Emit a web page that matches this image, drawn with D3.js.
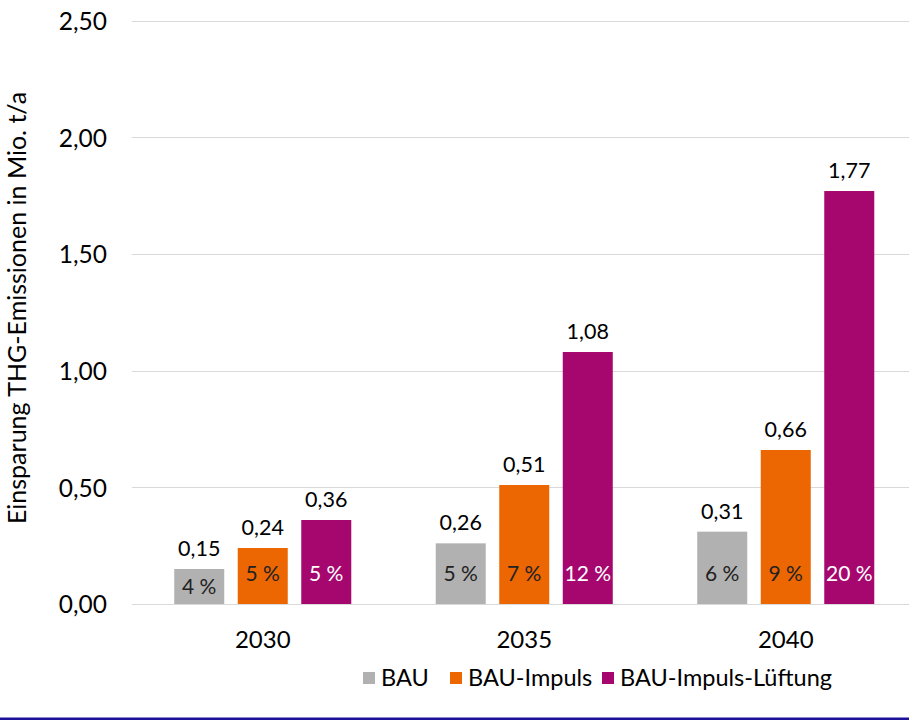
<!DOCTYPE html>
<html lang="de">
<head>
    <meta charset="UTF-8">
    <title>Einsparung THG-Emissionen</title>
    <script src="https://cdn.jsdelivr.net/npm/d3@7/dist/d3.min.js"></script>
    <style>
        body {
            margin: 0;
            background: #fff;
        }
        svg {
            display: block;
            font-family: Lato, "Open Sans", sans-serif;
        }
        .grid line {
            stroke: #d9d9d9;
            stroke-width: 1;
            shape-rendering: crispEdges;
        }
        .axis path,
        .axis line {
            display: none;
        }
        .axis text {
            fill: #000;
        }
    </style>
</head>
<body>
<script>
    var years = ["2030", "2035", "2040"],
        series = ["BAU", "BAU-Impuls", "BAU-Impuls-Lüftung"],
        colors = ["#b1b1b1", "#ec6602", "#a5076f"],
        bau = [0.15, 0.26, 0.31],
        impuls = [0.24, 0.51, 0.66],
        lueftung = [0.36, 1.08, 1.77],
        pctBau = [4, 5, 6],
        pctImpuls = [5, 7, 9],
        pctLueftung = [5, 12, 20],
        yTicks = [0, 0.5, 1, 1.5, 2, 2.5];

    var values = [bau, impuls, lueftung],
        pcts = [pctBau, pctImpuls, pctLueftung],
        pctColors = ["#222", "#222", "#fff"];

    var width = 909, height = 727;
    var plotLeft = 132, plotRight = 916.5, plotTop = 20.7, plotBottom = 604;

    var fmt = function (v) { return d3.format(".2f")(v).replace(".", ","); };

    var x0 = d3.scaleBand().domain(years).range([plotLeft, plotRight]);
    var x1 = d3.scaleBand().domain(series)
        .range([0, x0.bandwidth()])
        .paddingInner(0.2126)
        .paddingOuter(0.665);
    var y = d3.scaleLinear().domain([0, 2.5]).range([plotBottom, plotTop]);

    var svg = d3.select("body").append("svg")
        .attr("width", width)
        .attr("height", height);

    // grid
    svg.append("g").attr("class", "grid")
        .selectAll("line")
        .data(yTicks)
        .enter().append("line")
        .attr("x1", plotLeft).attr("x2", width)
        .attr("y1", function (d) { return Math.round(y(d)) + 0.5; })
        .attr("y2", function (d) { return Math.round(y(d)) + 0.5; });

    // y axis
    var yAxis = d3.axisLeft(y).tickValues(yTicks).tickFormat(fmt).tickSize(0).tickPadding(0);
    svg.append("g").attr("class", "axis")
        .attr("transform", "translate(107,0)")
        .call(yAxis)
        .attr("font-family", null)
        .selectAll("text")
        .style("font-size", "24.5px")
        .attr("dy", "0.36em");

    // x axis
    var xAxis = d3.axisBottom(x0).tickSize(0).tickPadding(0);
    svg.append("g").attr("class", "axis")
        .attr("transform", "translate(0," + 631 + ")")
        .call(xAxis)
        .attr("font-family", null)
        .selectAll("text")
        .style("font-size", "24px")
        .attr("dy", "0.72em");

    // bars
    var cells = [];
    years.forEach(function (yr, i) {
        series.forEach(function (s, j) {
            cells.push({year: yr, s: s, j: j, v: values[j][i], p: pcts[j][i]});
        });
    });

    var g = svg.append("g");
    var bar = g.selectAll(".bar")
        .data(cells)
        .enter().append("g")
        .attr("class", "bar")
        .attr("transform", function (d) { return "translate(" + (x0(d.year) + x1(d.s)) + ",0)"; });

    bar.append("rect")
        .attr("y", function (d) { return y(d.v); })
        .attr("width", x1.bandwidth())
        .attr("height", function (d) { return y(0) - y(d.v); })
        .attr("fill", function (d) { return colors[d.j]; });

    bar.append("text")
        .attr("x", x1.bandwidth() / 2)
        .attr("y", function (d) { return y(d.v) - 13; })
        .attr("text-anchor", "middle")
        .style("font-size", "21.5px")
        .text(function (d) { return fmt(d.v); });

    bar.append("text")
        .attr("x", x1.bandwidth() / 2)
        .attr("y", function (d) { return Math.max(y(0) - 31, y(d.v) + 17); })
        .attr("dy", "0.36em")
        .attr("text-anchor", "middle")
        .attr("fill", function (d) { return pctColors[d.j]; })
        .style("font-size", "21px")
        .text(function (d) { return d.p + " %"; });

    // legend
    var legendX = [363, 450, 602];
    var leg = svg.append("g").selectAll("g")
        .data(series)
        .enter().append("g")
        .attr("transform", function (d, i) { return "translate(" + legendX[i] + ",672)"; });
    leg.append("rect")
        .attr("width", 12).attr("height", 12)
        .attr("fill", function (d, i) { return colors[i]; });
    leg.append("text")
        .attr("x", 18).attr("y", 6)
        .attr("dy", "0.36em")
        .style("font-size", "23.5px")
        .text(function (d) { return d; });

    // y title
    svg.append("text")
        .attr("transform", "translate(26,308) rotate(-90)")
        .attr("text-anchor", "middle")
        .style("font-size", "25px")
        .text("Einsparung THG-Emissionen in Mio. t/a");

    // bottom rule
    svg.append("rect")
        .attr("x", 0).attr("y", 717.5)
        .attr("width", width).attr("height", 2.5)
        .attr("fill", "#1d119a");
</script>
</body>
</html>
